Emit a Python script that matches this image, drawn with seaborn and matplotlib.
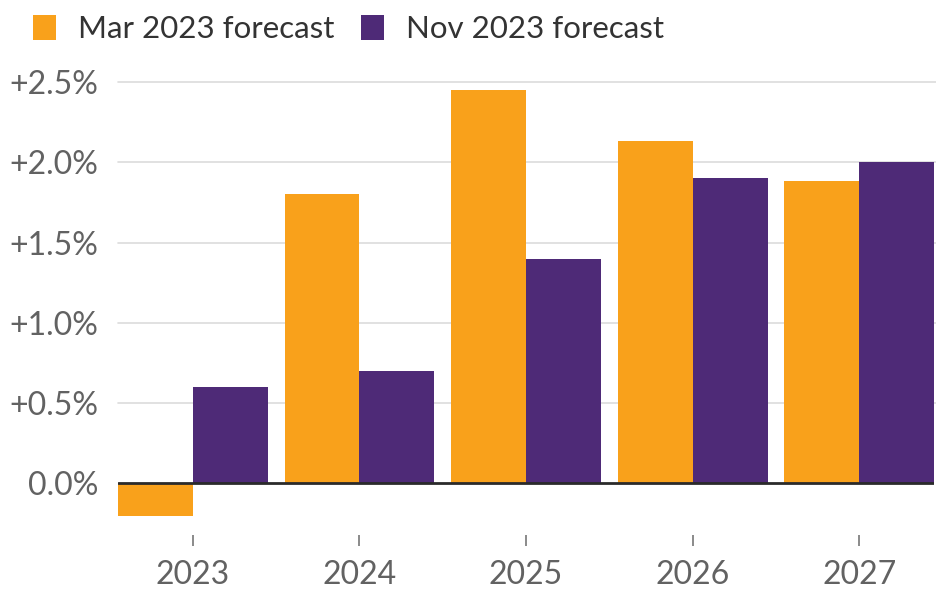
import matplotlib
matplotlib.use("Agg")
import matplotlib.pyplot as plt
import matplotlib.patches as mpatches
import seaborn as sns
import pandas as pd

years = ["2023", "2024", "2025", "2026", "2027"]
series_names = ["Mar 2023 forecast", "Nov 2023 forecast"]
mar_2023 = [-0.2, 1.8, 2.45, 2.13, 1.88]
nov_2023 = [0.6, 0.7, 1.4, 1.9, 2.0]
y_ticks = [0.0, 0.5, 1.0, 1.5, 2.0, 2.5]
y_tick_labels = ["0.0%", "+0.5%", "+1.0%", "+1.5%", "+2.0%", "+2.5%"]
colors = ["#F9A11B", "#4E2A77"]

df = pd.DataFrame({
    "year": years * 2,
    "value": mar_2023 + nov_2023,
    "series": [series_names[0]] * len(years) + [series_names[1]] * len(years),
})

sns.set_theme(style="white")
plt.rcParams["font.family"] = ["Lato", "DejaVu Sans"]

fig = plt.figure(figsize=(9.36, 5.91), dpi=100)
ax = fig.add_axes([0.126, 0.095, 0.872, 0.78])

sns.barplot(data=df, x="year", y="value", hue="series", order=years,
            hue_order=series_names, palette=colors, width=0.9, gap=0,
            saturation=1, ax=ax, legend=False, linewidth=0)

ax.set_xlim(-0.45, 4.45)
ax.set_ylim(-0.32, 2.55)
ax.set_yticks(y_ticks)
ax.set_yticklabels(y_tick_labels)
ax.set_xlabel("")
ax.set_ylabel("")

for y in y_ticks[1:]:
    ax.axhline(y, color="#dcdcdc", linewidth=1.2, zorder=0, xmin=0, xmax=1.01, clip_on=False)
ax.axhline(0, color="#2a2a2a", linewidth=2, zorder=3)

for s in ax.spines.values():
    s.set_visible(False)

ax.tick_params(axis="y", length=0, pad=14, labelsize=23, labelcolor="#626262")
ax.tick_params(axis="x", length=8, width=1.2, color="#777777", direction="out",
               pad=10, labelsize=23, labelcolor="#626262", bottom=True)

handles = [mpatches.Patch(facecolor=c, edgecolor="none") for c in colors]
fig.legend(handles, series_names, loc="upper left", bbox_to_anchor=(0.005, 1.022),
           ncol=2, frameon=False, fontsize=22.5, handlelength=0.75, handleheight=0.85,
           handletextpad=0.7, columnspacing=0.85, labelcolor="#333333")

fig.savefig("out.png", dpi=100)
